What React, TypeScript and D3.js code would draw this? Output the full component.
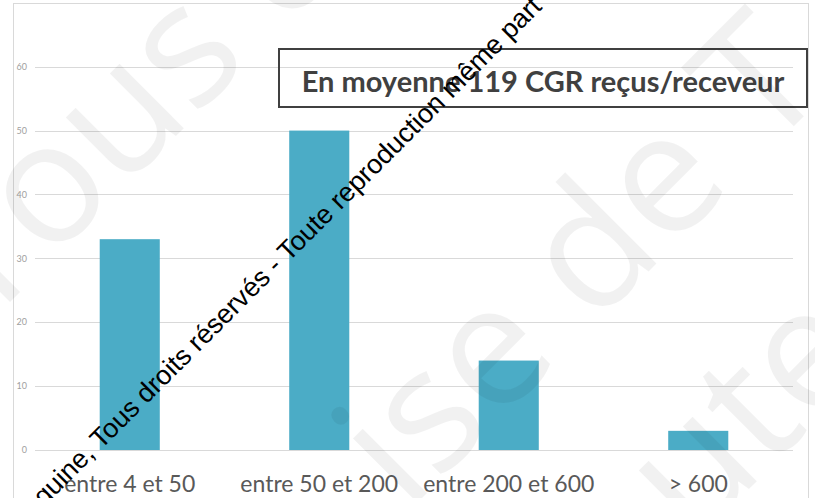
// @ts-nocheck
import React, { useEffect, useRef } from "react";
import * as d3 from "d3";

const categories = ["entre 4 et 50", "entre 50 et 200", "entre 200 et 600", "> 600"];
const counts = [33, 50, 14, 3];
const yTicks = [0, 10, 20, 30, 40, 50, 60];
const title = "En moyenne 119 CGR reçus/receveur";
const watermarkBig = ["Tous d", "ise de T", "Toute"];
const watermarkSmall = "quine, Tous droits réservés - Toute reproduction même part";

function App() {
  const ref = useRef(null);

  useEffect(() => {
    const width = 815,
      height = 498;
    const svg = d3.select(ref.current);
    svg.selectAll("*").remove();

    svg.append("rect").attr("width", width).attr("height", height).attr("fill", "#fff");

    // chart frame (Excel chart area)
    svg
      .append("rect")
      .attr("x", 13.5)
      .attr("y", 3.5)
      .attr("width", 795)
      .attr("height", 600)
      .attr("fill", "none")
      .attr("stroke", "#d9d9d9");

    var x = d3.scaleBand().domain(categories).range([35, 793]).paddingInner(0.683).paddingOuter(0.3415);
    var y = d3.scaleLinear().domain([0, 60]).range([450, 66.7]);

    // gridlines
    svg
      .selectAll("line.grid")
      .data(yTicks)
      .enter()
      .append("line")
      .attr("x1", 35)
      .attr("x2", 793)
      .attr("y1", (d) => Math.round(y(d)) + 0.5)
      .attr("y2", (d) => Math.round(y(d)) + 0.5)
      .attr("stroke", "#d9d9d9")
      .attr("stroke-width", 1);

    // y tick labels
    svg
      .selectAll("text.ytick")
      .data(yTicks)
      .enter()
      .append("text")
      .attr("x", 27)
      .attr("y", (d) => y(d))
      .attr("dy", "0.35em")
      .attr("text-anchor", "end")
      .style("font-family", "Lato, 'Open Sans', sans-serif")
      .style("font-size", "9px")
      .attr("fill", "#a0a0a0")
      .text((d) => d);

    // bars
    svg
      .selectAll("rect.bar")
      .data(counts)
      .enter()
      .append("rect")
      .attr("x", (d, i) => x(categories[i]))
      .attr("y", (d) => y(d))
      .attr("width", x.bandwidth())
      .attr("height", (d) => y(0) - y(d))
      .attr("fill", "#4BACC6");

    // category labels
    svg
      .selectAll("text.cat")
      .data(categories)
      .enter()
      .append("text")
      .attr("x", (d) => x(d) + x.bandwidth() / 2)
      .attr("y", 492)
      .attr("text-anchor", "middle")
      .style("font-family", "Lato, 'Open Sans', sans-serif")
      .style("font-size", "23px")
      .attr("fill", "#595959")
      .text((d) => d);

    // annotation box
    svg
      .append("rect")
      .attr("x", 279)
      .attr("y", 49)
      .attr("width", 528)
      .attr("height", 58)
      .attr("fill", "none")
      .attr("stroke", "#404040")
      .attr("stroke-width", 2);
    svg
      .append("text")
      .attr("x", 543)
      .attr("y", 92)
      .attr("text-anchor", "middle")
      .style("font-family", "Lato, 'Open Sans', sans-serif")
      .style("font-size", "29px")
      .style("font-weight", 700)
      .attr("fill", "#404040")
      .text(title);

    // big faint watermark
    const bigPos = [
      [-18, 330],
      [407, 513],
      [555, 683],
    ];
    svg
      .selectAll("text.wm")
      .data(watermarkBig)
      .enter()
      .append("text")
      .attr("transform", (d, i) => "translate(" + bigPos[i][0] + "," + bigPos[i][1] + ") rotate(-45)")
      .style("font-family", "'Open Sans', sans-serif")
      .style("font-size", "170px")
      .attr("fill", "#000")
      .attr("fill-opacity", 0.055)
      .text((d) => d);

    // small black watermark
    svg
      .append("text")
      .attr("transform", "translate(44,507) rotate(-45)")
      .style("font-family", "'Liberation Sans', Arial, sans-serif")
      .style("font-size", "27px")
      .attr("fill", "#000")
      .text(watermarkSmall);
  }, []);

  return (
    <svg
      ref={ref}
      width={815}
      height={498}
      style={{ position: "absolute", left: 0, top: 0, display: "block" }}
    ></svg>
  );
}

export default App;
